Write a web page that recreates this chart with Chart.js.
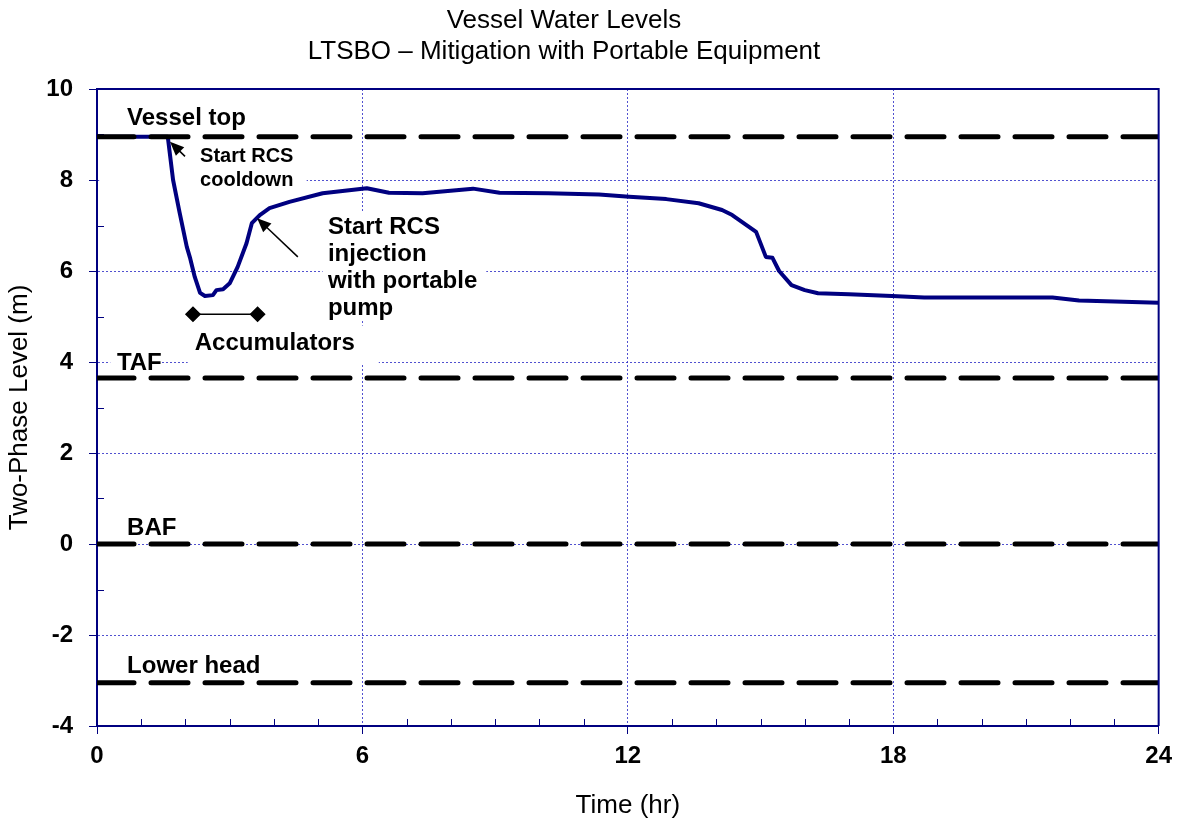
<!DOCTYPE html>
<html>
<head>
<meta charset="utf-8">
<script src="https://cdn.jsdelivr.net/npm/chart.js@4.4.1/dist/chart.umd.min.js"></script>
<style>
  html, body { margin: 0; padding: 0; background: #fff; }
  #wrap { width: 1180px; height: 825px; }
</style>
</head>
<body>
<div id="wrap"><canvas id="c"></canvas></div>
<script>
// vessel two-phase level (m) vs time (hr)
const timeHr = [0, 1.6, 1.72, 1.87, 2.03, 2.1, 2.21, 2.33, 2.44, 2.62, 2.7, 2.85, 3.0, 3.18, 3.38, 3.5, 3.68, 3.9, 4.35, 5.1, 6.1, 6.6, 7.36, 8.5, 9.1, 10.2, 11.35, 12.03, 12.87, 13.6, 14.13, 14.36, 14.9, 15.12, 15.27, 15.42, 15.7, 16.0, 16.3, 17.0, 17.97, 18.7, 21.6, 22.2, 24];
const levelM = [8.95, 8.95, 8.0, 7.27, 6.53, 6.3, 5.87, 5.52, 5.45, 5.47, 5.58, 5.6, 5.73, 6.09, 6.61, 7.05, 7.23, 7.38, 7.52, 7.71, 7.82, 7.72, 7.71, 7.81, 7.72, 7.71, 7.68, 7.63, 7.58, 7.49, 7.34, 7.23, 6.86, 6.31, 6.29, 6.0, 5.69, 5.58, 5.51, 5.49, 5.45, 5.42, 5.42, 5.35, 5.30];

// reference elevations
const refNames = ['Vessel top', 'TAF', 'BAF', 'Lower head'];
const refLevels = [8.95, 3.65, 0, -3.05];
const refLabelT = [0.68, 0.45, 0.68, 0.68];
const refLabelY = [9.36, 3.96, 0.35, -2.7];

// accumulator injection window
const accumT = [2.17, 3.63];
const accumY = [5.05, 5.05];

const xTicks = [0, 6, 12, 18, 24];
const yTicks = [-4, -2, 0, 2, 4, 6, 8, 10];

const titleLines = ['Vessel Water Levels', 'LTSBO \u2013 Mitigation with Portable Equipment'];

Chart.defaults.font.family = 'Arial, "Liberation Sans", sans-serif';
Chart.defaults.color = '#000';

const NAVY = '#000080';
const GRID = 'rgba(50,50,200,0.85)';

const toPx = (chart, t, v) => [chart.scales.x.getPixelForValue(t), chart.scales.y.getPixelForValue(v)];

// white boxes behind text labels (hide grid behind them)
const boxes = [
  { t0: 0.05, t1: 4.74, v0: 7.8, v1: 8.85 },
  { t0: 5.1, t1: 8.8, v0: 4.9, v1: 7.3 },
  { t0: 2.05, t1: 6.37, v0: 3.95, v1: 4.8 },
  { t0: 0.3, t1: 1.45, v0: 3.8, v1: 4.3 }
];

function arrow(ctx, x1, y1, x2, y2) {
  const a = Math.atan2(y2 - y1, x2 - x1);
  ctx.beginPath();
  ctx.moveTo(x1, y1);
  ctx.lineTo(x2 - 8 * Math.cos(a), y2 - 8 * Math.sin(a));
  ctx.stroke();
  ctx.beginPath();
  ctx.moveTo(x2, y2);
  ctx.lineTo(x2 - 14 * Math.cos(a) + 6 * Math.sin(a), y2 - 14 * Math.sin(a) - 6 * Math.cos(a));
  ctx.lineTo(x2 - 14 * Math.cos(a) - 6 * Math.sin(a), y2 - 14 * Math.sin(a) + 6 * Math.cos(a));
  ctx.closePath();
  ctx.fill();
}

const extras = {
  id: 'extras',
  beforeDatasetsDraw(chart) {
    const ctx = chart.ctx;
    ctx.save();
    ctx.fillStyle = '#fff';
    boxes.forEach(b => {
      const [xa, ya] = toPx(chart, b.t0, b.v1);
      const [xb, yb] = toPx(chart, b.t1, b.v0);
      ctx.fillRect(xa, ya, xb - xa, yb - ya);
    });
    // minor ticks, inside the plot
    const { left, right, top, bottom } = chart.chartArea;
    ctx.strokeStyle = NAVY;
    ctx.lineWidth = 1;
    ctx.beginPath();
    for (let t = 1; t < 24; t++) {
      if (t % 6 === 0) continue;
      const x = Math.round(chart.scales.x.getPixelForValue(t)) + 0.5;
      ctx.moveTo(x, bottom);
      ctx.lineTo(x, bottom - 7);
    }
    for (let v = -3; v < 10; v += 2) {
      const y = Math.round(chart.scales.y.getPixelForValue(v)) + 0.5;
      ctx.moveTo(left, y);
      ctx.lineTo(left + 7, y);
    }
    ctx.stroke();
    ctx.restore();
  },
  afterDatasetsDraw(chart) {
    const ctx = chart.ctx;
    const { left, right, top, bottom } = chart.chartArea;
    ctx.save();
    // frame top and right
    ctx.strokeStyle = NAVY;
    ctx.lineWidth = 2;
    ctx.beginPath();
    ctx.moveTo(left, top);
    ctx.lineTo(right, top);
    ctx.lineTo(right, bottom);
    ctx.stroke();

    ctx.fillStyle = '#000';
    ctx.textBaseline = 'middle';
    ctx.textAlign = 'left';
    ctx.font = 'bold 24px Arial, "Liberation Sans", sans-serif';
    refNames.forEach((n, i) => {
      const [x, y] = toPx(chart, refLabelT[i], refLabelY[i]);
      ctx.fillText(n, x, y);
    });
    let [x, y] = toPx(chart, 2.21, 4.42);
    ctx.fillText('Accumulators', x, y);
    const inj = ['Start RCS', 'injection', 'with portable', 'pump'];
    const injY = [6.95, 6.36, 5.77, 5.18];
    inj.forEach((s, i) => {
      const p = toPx(chart, 5.22, injY[i]);
      ctx.fillText(s, p[0], p[1]);
    });
    ctx.font = 'bold 20px Arial, "Liberation Sans", sans-serif';
    [x, y] = toPx(chart, 2.33, 8.52);
    ctx.fillText('Start RCS', x, y);
    [x, y] = toPx(chart, 2.33, 8.0);
    ctx.fillText('cooldown', x, y);

    // arrows
    ctx.strokeStyle = '#000';
    ctx.lineWidth = 1.5;
    let a = toPx(chart, 1.99, 8.52), b = toPx(chart, 1.65, 8.84);
    arrow(ctx, a[0], a[1], b[0], b[1]);
    a = toPx(chart, 4.54, 6.31); b = toPx(chart, 3.62, 7.16);
    arrow(ctx, a[0], a[1], b[0], b[1]);

    // title
    ctx.font = '26px Arial, "Liberation Sans", sans-serif';
    ctx.textAlign = 'center';
    ctx.fillText(titleLines[0], 564, 21);
    ctx.fillText(titleLines[1], 564, 52);
    ctx.restore();
  }
};

const refDatasets = refLevels.map((v, i) => ({
  label: refNames[i],
  data: [{ x: 0, y: v }, { x: 24, y: v }],
  showLine: true,
  borderColor: '#000',
  borderWidth: 5,
  borderDash: [37, 17],
  borderCapStyle: 'round',
  pointRadius: 0,
  order: 0
}));

new Chart(document.getElementById('c'), {
  type: 'scatter',
  data: {
    datasets: [
      {
        label: 'Two-phase level',
        data: timeHr.map((t, i) => ({ x: t, y: levelM[i] })),
        showLine: true,
        borderColor: NAVY,
        borderWidth: 4,
        borderJoinStyle: 'round',
        pointRadius: 0,
        order: 2
      },
      {
        label: 'Accumulators',
        data: accumT.map((t, i) => ({ x: t, y: accumY[i] })),
        showLine: true,
        borderColor: '#000',
        backgroundColor: '#000',
        borderWidth: 1.5,
        pointStyle: 'rectRot',
        pointRadius: 7,
        order: 1
      },
      ...refDatasets
    ]
  },
  options: {
    responsive: true,
    maintainAspectRatio: false,
    animation: false,
    layout: { padding: { top: 89, right: 20, left: 0, bottom: 0 } },
    plugins: {
      legend: { display: false },
      tooltip: { enabled: false }
    },
    scales: {
      x: {
        type: 'linear',
        min: 0,
        max: 24,
        afterFit: s => { s.height = 99; },
        afterBuildTicks: s => { s.ticks = xTicks.map(v => ({ value: v })); },
        ticks: { font: { size: 24, weight: 'bold' }, padding: 8, maxRotation: 0 },
        grid: {
          color: GRID,
          lineWidth: 1,
          tickColor: NAVY,
          tickLength: 8,
          tickBorderDash: []
        },
        border: { display: true, color: NAVY, width: 2, dash: [2, 2] },
        title: { display: true, text: 'Time (hr)', font: { size: 26 } }
      },
      y: {
        min: -4,
        max: 10,
        afterFit: s => { s.width = 97; },
        afterBuildTicks: s => { s.ticks = yTicks.map(v => ({ value: v })); },
        ticks: { font: { size: 24, weight: 'bold' }, padding: 16 },
        grid: {
          color: GRID,
          lineWidth: 1,
          tickColor: NAVY,
          tickLength: 8,
          tickBorderDash: []
        },
        border: { display: true, color: NAVY, width: 2, dash: [2, 2] },
        title: { display: true, text: 'Two-Phase Level (m)', font: { size: 26 } }
      }
    }
  },
  plugins: [extras]
});
</script>
</body>
</html>
